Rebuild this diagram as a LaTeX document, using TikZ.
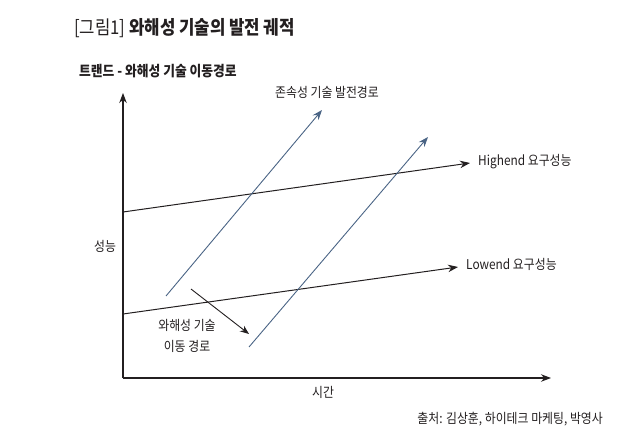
\documentclass[tikz,border=0pt]{standalone}
\usepackage{fontspec}
\setmainfont{Noto Sans CJK KR}[FakeStretch=0.88]
\usetikzlibrary{arrows.meta}
\definecolor{ink}{HTML}{231F20}
\definecolor{slate}{HTML}{4A6485}
\begin{document}
\begin{tikzpicture}[x=1pt,y=-1pt,
  lbl/.style={font=\fontsize{13.5}{15}\selectfont, text=ink, inner sep=0pt},
  axis/.style={draw=ink, line width=1.1pt, -{Stealth[length=10pt,width=7.5pt]}},
  trend/.style={draw=ink, line width=1pt, -{Stealth[length=10pt,width=7.5pt]}},
  path/.style={draw=slate, line width=0.9pt, -{Stealth[length=10pt,width=7.5pt]}},
  move/.style={draw=ink, line width=0.9pt, -{Stealth[length=9pt,width=7pt]}}]
\useasboundingbox (0,0) rectangle (640,441);
% titles
\node[anchor=west, inner sep=0pt, text=ink, font=\fontsize{19}{22}\selectfont] (title) at (74,28) {[그림1] \textbf{와해성 기술의 발전 궤적}};
\node[anchor=west, inner sep=0pt, text=ink, font=\fontsize{14.5}{16}\selectfont\bfseries] (sub) at (79,71) {트랜드 - 와해성 기술 이동경로};
% axes
\coordinate (O) at (123,378);
\coordinate (Ytop) at (123,93);
\coordinate (Xend) at (551,378);
\draw[axis] (O) -- (Ytop);
\draw[axis] (O) -- (Xend);
% trends
\coordinate (h0) at (123,212);
\coordinate (h1) at (470,163);
\coordinate (l0) at (123,314);
\coordinate (l1) at (458,267);
\draw[trend] (h0) -- (h1);
\draw[trend] (l0) -- (l1);
% sustaining paths
\coordinate (s1a) at (166,296);
\coordinate (s1b) at (322,110);
\coordinate (s2a) at (249,347);
\coordinate (s2b) at (428,137);
\draw[path] (s1a) -- (s1b);
\draw[path] (s2a) -- (s2b);
% disruptive move
\coordinate (m0) at (191,289);
\coordinate (m1) at (249,334);
\draw[move] (m0) -- (m1);
% labels
\node[lbl, anchor=west] (hl) at (478,162) {Highend 요구성능};
\node[lbl, anchor=west] (ll) at (466,264) {Lowend 요구성능};
\node[lbl] (sl) at (327,92) {존속성 기술 발전경로};
\node[lbl, align=center, font=\fontsize{13.5}{21}\selectfont] (dl) at (187,336) {와해성 기술\\이동 경로};
\node[lbl] (yl) at (105,246) {성능};
\node[lbl] (xl) at (323,392) {시간};
\node[lbl, anchor=east] (src) at (603,419) {출처: 김상훈, 하이테크 마케팅, 박영사};
\end{tikzpicture}
\end{document}
